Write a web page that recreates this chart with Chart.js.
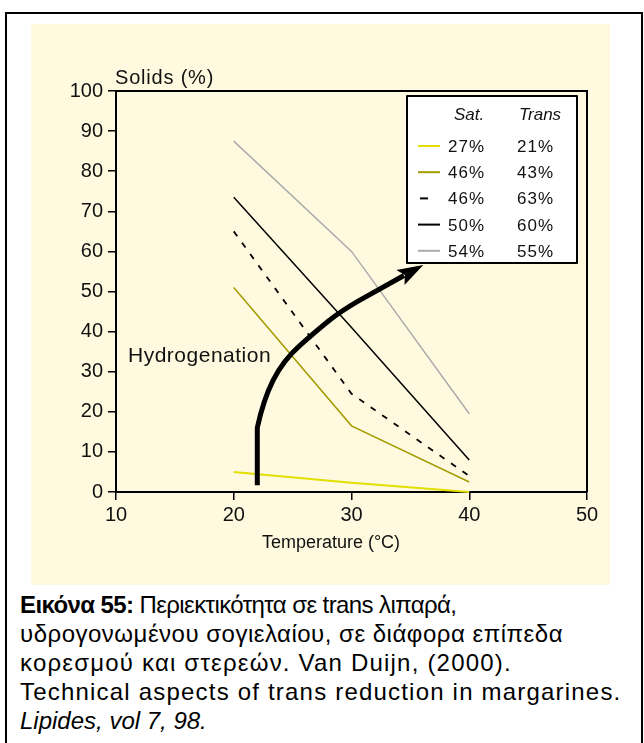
<!DOCTYPE html>
<html>
<head>
<meta charset="utf-8">
<script src="https://cdn.jsdelivr.net/npm/chart.js@4"></script>
<style>
  html, body { margin: 0; padding: 0; background: #fff; }
  body { width: 644px; height: 743px; overflow: hidden; position: relative;
         font-family: 'Liberation Sans', Arial, sans-serif; }
  #frame { position: absolute; left: 5px; top: 12px; width: 634px; height: 780px; border: 2px solid #000; }
  #panel { position: absolute; left: 31px; top: 24px; width: 579px; height: 561px; background: #FFFADF; }
  #caption { position: absolute; left: 20px; top: 590px; width: 620px; font-size: 24px;
             letter-spacing: 0.5px; line-height: 29px; color: #000; white-space: nowrap; }
  #caption .l1 { letter-spacing: -0.6px; }
  #caption .l3, #caption .l4 { letter-spacing: 1.2px; }
  #caption .l5 { letter-spacing: 0; }
</style>
</head>
<body>
<div id="frame"></div>
<div id="panel"><canvas id="solids" width="579" height="561"></canvas></div>
<div id="caption">
  <span class="l1"><b>Εικόνα 55:</b> Περιεκτικότητα σε trans λιπαρά,</span><br>
  <span class="l2">υδρογονωμένου σογιελαίου, σε διάφορα επίπεδα</span><br>
  <span class="l3">κορεσμού και στερεών. Van Duijn, (2000).</span><br>
  <span class="l4">Technical aspects of trans reduction in margarines.</span><br>
  <span class="l5"><i>Lipides, vol 7, 98.</i></span>
</div>
<script>
// ── DATA ──────────────────────────────────────────────────────────────────
const temps      = [20, 30, 40];
const solidsA    = [5, 2.3, 0];        // 27% sat / 21% trans
const solidsB    = [51, 16.5, 2.5];    // 46% / 43%
const solidsC    = [65, 24.5, 4];      // 46% / 63%
const solidsD    = [73.5, 41, 8];      // 50% / 60%
const solidsE    = [87.5, 60, 19.5];   // 54% / 55%
const satLabels   = ['27%', '46%', '46%', '50%', '54%'];
const transLabels = ['21%', '43%', '63%', '60%', '55%'];
const xTicks = [10, 20, 30, 40, 50];
const yTicks = [0, 10, 20, 30, 40, 50, 60, 70, 80, 90, 100];

// hydrogenation arrow path, in axis units (temperature, solids)
const arrowT = [22, 22, 22.5, 24.2, 27.1, 29.0, 32.2, 36.1];
const arrowS = [1.7, 16, 22.9, 32.9, 40.4, 44.9, 50.4, 56.6];

const FONT = "'Liberation Sans', Arial, sans-serif";

function pts(vals) {
  return temps.map(function(t, i) { return { x: t, y: vals[i] }; });
}

function line(vals, color, width, dash) {
  return {
    data:        pts(vals),
    borderColor: color,
    borderWidth: width,
    borderDash:  dash || [],
    pointRadius: 0,
    tension:     0,
    fill:        false,
    clip:        4
  };
}

const datasets = [
  line(solidsA, '#E2DE00', 2),
  line(solidsB, '#A39C00', 1.5),
  line(solidsC, '#000', 1.8, [6, 8]),
  line(solidsD, '#000', 1.5),
  line(solidsE, '#ABABAB', 1.5)
];

// ── DECORATION: frame, arrow, legend table, texts ─────────────────────────
const decor = {
  id: 'decor',
  afterDatasetsDraw: function(chart) {
    const ctx = chart.ctx;
    const a = chart.chartArea;
    const xs = chart.scales.x, ys = chart.scales.y;

    // top and right frame
    ctx.save();
    ctx.strokeStyle = '#000';
    ctx.lineWidth = 2;
    ctx.beginPath();
    ctx.moveTo(a.left, a.top);
    ctx.lineTo(a.right, a.top);
    ctx.lineTo(a.right, a.bottom);
    ctx.stroke();

    // arrow
    const p = arrowT.map(function(t, i) {
      return { x: xs.getPixelForValue(t), y: ys.getPixelForValue(arrowS[i]) };
    });
    const tip = p[p.length - 1], prev = p[p.length - 2];
    const ang = Math.atan2(tip.y - prev.y, tip.x - prev.x);
    const headLen = 26, headHalf = 8.5;
    const base = { x: tip.x - headLen * Math.cos(ang), y: tip.y - headLen * Math.sin(ang) };
    ctx.lineWidth = 5;
    ctx.lineCap = 'butt';
    ctx.lineJoin = 'round';
    ctx.beginPath();
    ctx.moveTo(p[0].x, p[0].y);
    ctx.lineTo(p[1].x, p[1].y);
    for (let i = 2; i < p.length - 2; i++) {
      const mx = (p[i].x + p[i + 1].x) / 2, my = (p[i].y + p[i + 1].y) / 2;
      ctx.quadraticCurveTo(p[i].x, p[i].y, mx, my);
    }
    ctx.lineTo(base.x + 4 * Math.cos(ang), base.y + 4 * Math.sin(ang));
    ctx.stroke();
    ctx.fillStyle = '#000';
    ctx.beginPath();
    ctx.moveTo(tip.x, tip.y);
    ctx.lineTo(base.x - headHalf * Math.sin(ang), base.y + headHalf * Math.cos(ang));
    ctx.lineTo(base.x + 5 * Math.cos(ang), base.y + 5 * Math.sin(ang));
    ctx.lineTo(base.x + headHalf * Math.sin(ang), base.y - headHalf * Math.cos(ang));
    ctx.closePath();
    ctx.fill();

    // legend table
    const bx = a.left + 291, by = a.top + 5, bw = 170, bh = 167;
    ctx.fillStyle = '#fff';
    ctx.fillRect(bx, by, bw, bh);
    ctx.lineWidth = 2;
    ctx.strokeStyle = '#000';
    ctx.strokeRect(bx, by, bw, bh);

    ctx.fillStyle = '#111';
    ctx.textBaseline = 'alphabetic';
    ctx.textAlign = 'center';
    ctx.font = 'italic 17px ' + FONT;
    ctx.fillText('Sat.', bx + 62, by + 24);
    ctx.fillText('Trans', bx + 133, by + 24);

    ctx.textAlign = 'left';
    ctx.font = '17px ' + FONT;
    ctx.letterSpacing = '1px';
    chart.data.datasets.forEach(function(ds, i) {
      const cy = by + 50 + i * 26.2;
      ctx.strokeStyle = ds.borderColor;
      ctx.lineWidth = 2;
      ctx.beginPath();
      if (ds.borderDash.length) {
        ctx.moveTo(bx + 13, cy);
        ctx.lineTo(bx + 21, cy);
      } else {
        ctx.moveTo(bx + 11, cy);
        ctx.lineTo(bx + 33, cy);
      }
      ctx.stroke();
      ctx.fillStyle = '#111';
      ctx.fillText(satLabels[i], bx + 41, cy + 6);
      ctx.fillText(transLabels[i], bx + 110, cy + 6);
    });

    // texts
    ctx.font = '21px ' + FONT;
    ctx.letterSpacing = '0.5px';
    ctx.fillText('Hydrogenation', a.left + 12, a.top + 271);
    ctx.font = '20px ' + FONT;
    ctx.letterSpacing = '0.8px';
    ctx.fillText('Solids (%)', a.left - 1, a.top - 7);
    ctx.letterSpacing = '0px';
    ctx.font = '18px ' + FONT;
    ctx.textAlign = 'center';
    ctx.fillText('Temperature (°C)', a.left + 215, a.bottom + 56);
    ctx.restore();
  }
};

// ── CHART ─────────────────────────────────────────────────────────────────
new Chart(document.getElementById('solids'), {
  type: 'line',
  data: { datasets: datasets },
  plugins: [decor],
  options: {
    responsive: false,
    animation:  false,
    layout: { padding: { top: 67, right: 23, left: 0, bottom: 0 } },
    plugins: {
      legend:  { display: false },
      tooltip: { enabled: false }
    },
    scales: {
      x: {
        type: 'linear',
        min: xTicks[0],
        max: xTicks[xTicks.length - 1],
        afterBuildTicks: function(s) { s.ticks = xTicks.map(function(v) { return { value: v }; }); },
        afterFit: function(s) { s.height = 93; },
        grid:   { drawOnChartArea: false, drawTicks: true, tickLength: 8, color: '#000', lineWidth: 1.5 },
        border: { display: true, color: '#000', width: 2 },
        ticks:  { font: { family: FONT, size: 20 }, color: '#111', padding: 3, maxRotation: 0 }
      },
      y: {
        min: yTicks[0],
        max: yTicks[yTicks.length - 1],
        afterBuildTicks: function(s) { s.ticks = yTicks.map(function(v) { return { value: v }; }); },
        afterFit: function(s) { s.width = 85; },
        grid:   { drawOnChartArea: false, drawTicks: true, tickLength: 8, color: '#000', lineWidth: 1.5 },
        border: { display: true, color: '#000', width: 2 },
        ticks:  { font: { family: FONT, size: 20 }, color: '#111', padding: 5 }
      }
    }
  }
});
</script>
</body>
</html>
